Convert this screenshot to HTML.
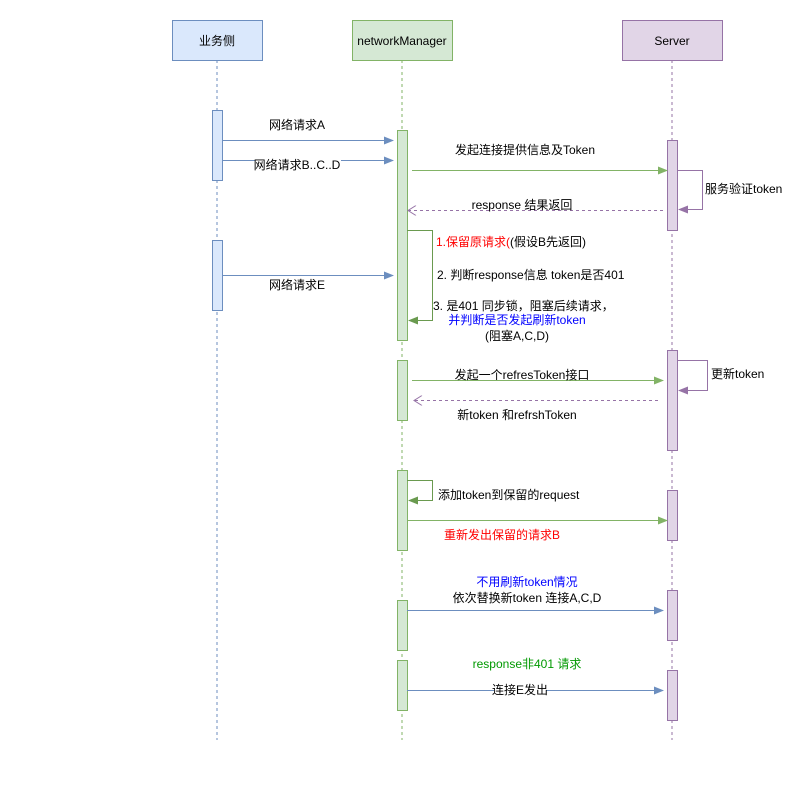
<!DOCTYPE html><html><head><meta charset="utf-8"><style>body{margin:0;background:#fff}svg{display:block}text{font-family:"Liberation Sans","Noto Sans CJK SC",sans-serif;font-size:12px}</style></head><body>
<svg width="798" height="809" viewBox="0 0 798 809" xmlns="http://www.w3.org/2000/svg">
<defs>
<marker id="ab" markerWidth="10" markerHeight="8" refX="9" refY="4" orient="auto" markerUnits="userSpaceOnUse"><path d="M0,0L10,4L0,8z" fill="#6c8ebf"/></marker>
<marker id="ag" markerWidth="10" markerHeight="8" refX="9" refY="4" orient="auto" markerUnits="userSpaceOnUse"><path d="M0,0L10,4L0,8z" fill="#82b366"/></marker>
<marker id="ag2" markerWidth="10" markerHeight="8" refX="9" refY="4" orient="auto" markerUnits="userSpaceOnUse"><path d="M0,0L10,4L0,8z" fill="#6a9a4f"/></marker>
<marker id="ap" markerWidth="10" markerHeight="8" refX="9" refY="4" orient="auto" markerUnits="userSpaceOnUse"><path d="M0,0L10,4L0,8z" fill="#9673a6"/></marker>
<marker id="ao" markerWidth="10" markerHeight="10" refX="9" refY="5" orient="auto" markerUnits="userSpaceOnUse"><path d="M1,0L9,5L1,10" fill="none" stroke="#9673a6"/></marker>
</defs>
<g stroke-dasharray="3,3" stroke-width="1">
<line x1="217" y1="60" x2="217" y2="740" stroke="#6c8ebf"/>
<line x1="402" y1="60" x2="402" y2="740" stroke="#82b366"/>
<line x1="672" y1="60" x2="672" y2="740" stroke="#9673a6"/>
</g>
<rect x="172.5" y="20.5" width="90" height="40" fill="#dae8fc" stroke="#6c8ebf"/>
<text x="217" y="45" text-anchor="middle">业务侧</text>
<rect x="352.5" y="20.5" width="100" height="40" fill="#d5e8d4" stroke="#82b366"/>
<text x="402" y="45" text-anchor="middle">networkManager</text>
<rect x="622.5" y="20.5" width="100" height="40" fill="#e1d5e7" stroke="#9673a6"/>
<text x="672" y="45" text-anchor="middle">Server</text>
<g fill="#dae8fc" stroke="#6c8ebf"><rect x="212.5" y="110.5" width="10" height="70"/><rect x="212.5" y="240.5" width="10" height="70"/></g>
<g fill="#d5e8d4" stroke="#82b366"><rect x="397.5" y="130.5" width="10" height="210"/><rect x="397.5" y="360.5" width="10" height="60"/><rect x="397.5" y="470.5" width="10" height="80"/><rect x="397.5" y="600.5" width="10" height="50"/><rect x="397.5" y="660.5" width="10" height="50"/></g>
<g fill="#e1d5e7" stroke="#9673a6"><rect x="667.5" y="140.5" width="10" height="90"/><rect x="667.5" y="350.5" width="10" height="100"/><rect x="667.5" y="490.5" width="10" height="50"/><rect x="667.5" y="590.5" width="10" height="50"/><rect x="667.5" y="670.5" width="10" height="50"/></g>
<g fill="none">
<line x1="222" y1="140.5" x2="393" y2="140.5" stroke="#6c8ebf" marker-end="url(#ab)"/>
<line x1="222" y1="160.5" x2="393" y2="160.5" stroke="#6c8ebf" marker-end="url(#ab)"/>
<line x1="222" y1="275.5" x2="393" y2="275.5" stroke="#6c8ebf" marker-end="url(#ab)"/>
<line x1="412" y1="170.5" x2="667" y2="170.5" stroke="#82b366" marker-end="url(#ag)"/>
<line x1="663" y1="210.5" x2="408" y2="210.5" stroke="#9673a6" stroke-dasharray="3,3" marker-end="url(#ao)"/>
<polyline points="677,170.5 702.5,170.5 702.5,209.5 679,209.5" stroke="#9673a6" marker-end="url(#ap)"/>
<polyline points="407,230.5 432.5,230.5 432.5,320.5 409,320.5" stroke="#6a9a4f" marker-end="url(#ag2)"/>
<line x1="412" y1="380.5" x2="663" y2="380.5" stroke="#82b366" marker-end="url(#ag)"/>
<line x1="658" y1="400.5" x2="414" y2="400.5" stroke="#9673a6" stroke-dasharray="3,3" marker-end="url(#ao)"/>
<polyline points="677,360.5 707.5,360.5 707.5,390.5 679,390.5" stroke="#9673a6" marker-end="url(#ap)"/>
<polyline points="407,480.5 432.5,480.5 432.5,500.5 409,500.5" stroke="#6a9a4f" marker-end="url(#ag2)"/>
<line x1="407" y1="520.5" x2="667" y2="520.5" stroke="#82b366" marker-end="url(#ag)"/>
<line x1="407" y1="610.5" x2="663" y2="610.5" stroke="#6c8ebf" marker-end="url(#ab)"/>
<line x1="407" y1="690.5" x2="663" y2="690.5" stroke="#6c8ebf" marker-end="url(#ab)"/>
</g>
<text x="297" y="129" text-anchor="middle">网络请求A</text>
<rect x="255" y="157" width="86" height="14" fill="#fff"/>
<text x="297" y="169" text-anchor="middle">网络请求B..C..D</text>
<text x="297" y="289" text-anchor="middle">网络请求E</text>
<text x="525" y="154" text-anchor="middle" font-size="11">发起连接提供信息及Token</text>
<text x="705" y="193" font-size="11">服务验证token</text>
<text x="522" y="209" text-anchor="middle">response 结果返回</text>
<text x="436" y="246" font-size="11"><tspan fill="#ff0000">1.保留原请求(</tspan>(假设B先返回)</text>
<text x="437" y="279" font-size="11">2. 判断response信息 token是否401</text>
<text x="433" y="310" font-size="11">3. 是401  同步锁，阻塞后续请求，</text>
<text x="517" y="324" text-anchor="middle" font-size="11" fill="#0000ff">并判断是否发起刷新token</text>
<text x="517" y="340" text-anchor="middle" font-size="11">(阻塞A,C,D)</text>
<text x="522" y="379" text-anchor="middle">发起一个refresToken接口</text>
<text x="711" y="378" font-size="11">更新token</text>
<text x="517" y="419" text-anchor="middle">新token 和refrshToken</text>
<text x="438" y="499" font-size="11">添加token到保留的request</text>
<text x="502" y="539" text-anchor="middle" fill="#ff0000">重新发出保留的请求B</text>
<text x="527" y="586" text-anchor="middle" fill="#0000ff">不用刷新token情况</text>
<text x="527" y="602" text-anchor="middle">依次替换新token 连接A,C,D</text>
<text x="527" y="668" text-anchor="middle" fill="#009900">response非401 请求</text>
<rect x="494" y="683" width="52" height="14" fill="#fff"/>
<text x="520" y="694" text-anchor="middle" font-size="11">连接E发出</text>
</svg></body></html>
